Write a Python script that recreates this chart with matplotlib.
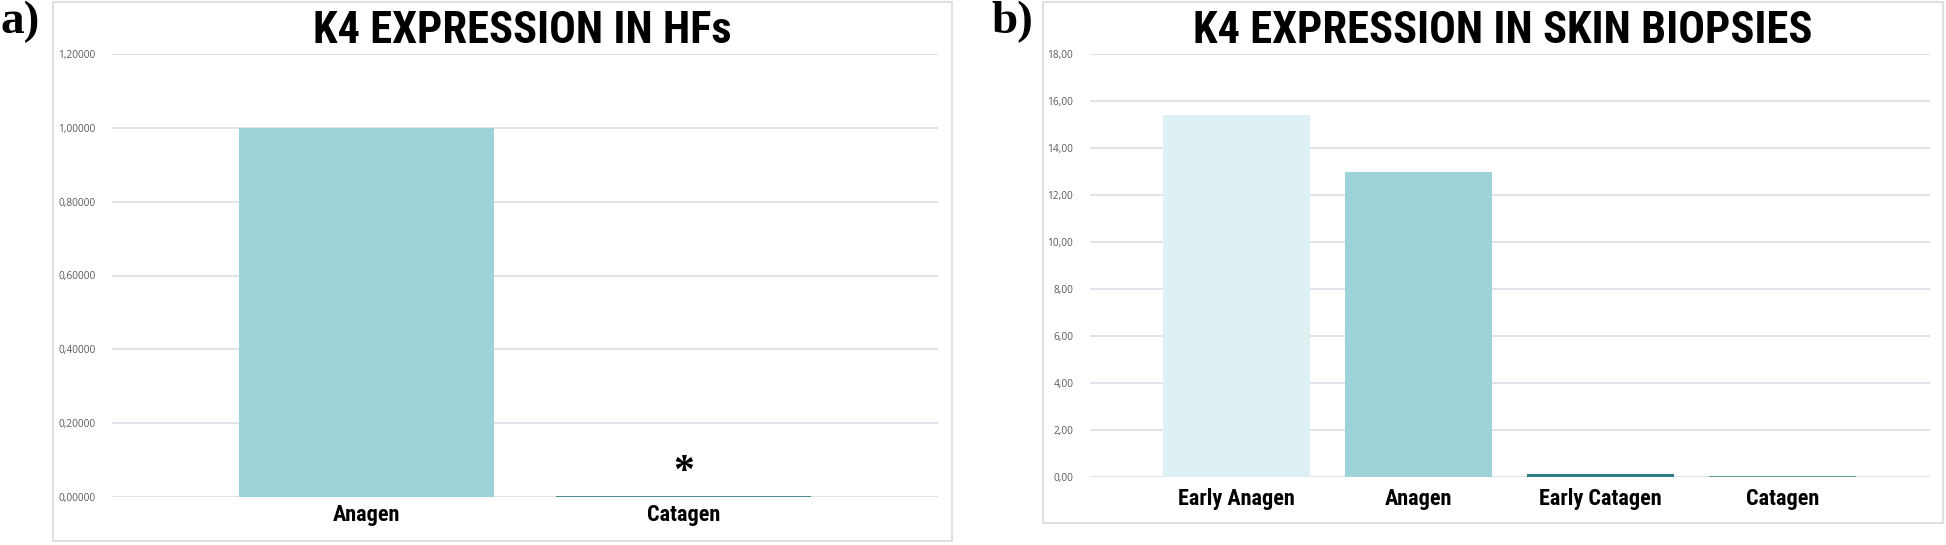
import matplotlib
matplotlib.use("Agg")
import matplotlib.pyplot as plt
from matplotlib.patches import Rectangle
from matplotlib.ticker import FuncFormatter

# ---------------- data ----------------
hf_categories = ["Anagen", "Catagen"]
hf_values = [1.0, 0.004]
hf_colors = ["#9dd3d8", "#4f8a90"]
hf_yticks = [0.0, 0.2, 0.4, 0.6, 0.8, 1.0, 1.2]

skin_categories = ["Early Anagen", "Anagen", "Early Catagen", "Catagen"]
skin_values = [15.40, 13.00, 0.11, 0.03]
skin_colors = ["#ddf0f3", "#9dd3d8", "#2b7f86", "#5e9799"]
skin_yticks = [0, 2, 4, 6, 8, 10, 12, 14, 16, 18]

star_value = 0.038

W, H = 1946, 545
fig = plt.figure(figsize=(W / 100, H / 100), dpi=100)

title_font = ["Roboto Condensed", "DejaVu Sans"]
label_font = ["Open Sans", "DejaVu Sans"]
grid_col = "#e2e2ea"
tick_col = "#595959"


def px_box(x0, y0, x1, y1):
    # pixel box (top-left origin) -> figure fraction [l, b, w, h]
    return [x0 / W, (H - y1) / H, (x1 - x0) / W, (y1 - y0) / H]


# panel frames
for x0, y0, x1, y1 in [(53, 2, 952, 541), (1043, 2, 1943, 523)]:
    l, b, w, h = px_box(x0, y0, x1, y1)
    fig.patches.append(Rectangle((l, b), w, h, transform=fig.transFigure,
                                 fill=False, edgecolor="#d9d9de", linewidth=1.2))


def style_axes(ax, yticks, ymax, fmt, pad):
    ax.set_ylim(0, ymax)
    ax.set_yticks(yticks)
    ax.yaxis.set_major_formatter(FuncFormatter(lambda v, p: fmt.format(v).replace(".", ",")))
    for s in ax.spines.values():
        s.set_visible(False)
    ax.yaxis.grid(True, color=grid_col, linewidth=1.4)
    ax.set_axisbelow(True)
    ax.tick_params(axis="both", length=0)
    ax.tick_params(axis="y", pad=12, labelsize=7.3, labelcolor=tick_col)
    ax.tick_params(axis="x", pad=pad)
    for t in ax.get_yticklabels():
        t.set_fontfamily(label_font)
    for t in ax.get_xticklabels():
        t.set_fontfamily(title_font)
        t.set_fontweight("bold")
        t.set_fontsize(16)


## ------------ a) HFs -----------
ax1 = fig.add_axes(px_box(112, 54, 938, 497))
pos1 = list(range(len(hf_categories)))
ax1.bar(pos1, hf_values, width=0.804, color=hf_colors)
ax1.set_xlim(-0.803, len(hf_categories) - 1 + 0.803)
ax1.set_xticks(pos1, labels=hf_categories)
style_axes(ax1, hf_yticks, 1.2, "{:.5f}", 5)
ax1.text(1, star_value, "*", ha="center", va="baseline", fontsize=30,
         fontweight="bold", family="Liberation Serif")

## ------------ b) skin biopsies -----------
ax2 = fig.add_axes(px_box(1090, 54, 1930, 477))
pos2 = list(range(len(skin_categories)))
ax2.bar(pos2, skin_values, width=0.807, color=skin_colors)
ax2.set_xlim(-0.805, len(skin_categories) - 1 + 0.808)
ax2.set_xticks(pos2, labels=skin_categories)
style_axes(ax2, skin_yticks, 18, "{:.2f}", 8)

# titles
fig.text(522 / W, (H - 43) / H, "K4 EXPRESSION IN HFs", ha="center", va="baseline",
         fontsize=32, fontweight="bold", family=title_font)
fig.text(1503 / W, (H - 43) / H, "K4 EXPRESSION IN SKIN BIOPSIES", ha="center",
         va="baseline", fontsize=32, fontweight="bold", family=title_font)

# panel letters
fig.text(1 / W, (H - 33) / H, "a)", ha="left", va="baseline", fontsize=34,
         fontweight="bold", family="Liberation Serif")
fig.text(991 / W, (H - 33) / H, "b)", ha="left", va="baseline", fontsize=34,
         fontweight="bold", family="Liberation Serif")

fig.savefig("out.png", dpi=100)
